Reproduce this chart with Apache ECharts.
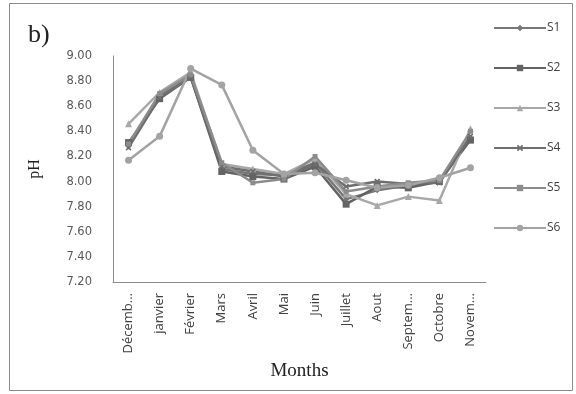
<!DOCTYPE html>
<html>
<head>
<meta charset="utf-8">
<script src="https://cdn.jsdelivr.net/npm/echarts@6/dist/echarts.min.js"></script>
<style>
  html, body { margin: 0; padding: 0; background: #fff; }
  #chart { width: 576px; height: 394px; }
</style>
</head>
<body>
<div id="chart"></div>
<script>
// Monthly pH at six sampling stations
const months = ['Décemb...', 'janvier', 'Février', 'Mars', 'Avril', 'Mai', 'Juin', 'Juillet', 'Aout', 'Septem...', 'Octobre', 'Novem...'];
const yTicks = ['7.20', '7.40', '7.60', '7.80', '8.00', '8.20', '8.40', '8.60', '8.80', '9.00'];

const S1 = [8.28, 8.68, 8.84, 8.10, 8.06, 8.05, 8.15, 7.86, 7.93, 7.97, 8.00, 8.35];
const S2 = [8.31, 8.66, 8.83, 8.08, 8.04, 8.02, 8.12, 7.82, 7.96, 7.95, 8.00, 8.33];
const S3 = [8.46, 8.71, 8.87, 8.14, 8.10, 8.06, 8.18, 7.90, 7.81, 7.88, 7.85, 8.42];
const S4 = [8.27, 8.67, 8.83, 8.12, 8.08, 8.04, 8.14, 7.96, 8.00, 7.98, 7.99, 8.36];
const S5 = [8.30, 8.70, 8.85, 8.15, 7.99, 8.02, 8.20, 7.92, 7.96, 7.99, 8.01, 8.40];
const S6 = [8.17, 8.36, 8.90, 8.77, 8.25, 8.06, 8.07, 8.01, 7.95, 7.97, 8.03, 8.11];

const seriesNames = ['S1', 'S2', 'S3', 'S4', 'S5', 'S6'];
const seriesData = [S1, S2, S3, S4, S5, S6];

const colors = ['#777777', '#636363', '#a8a8a8', '#6e6e6e', '#8c8c8c', '#a3a3a3'];
const crossPath = 'path://M2,0L5,3L8,0L10,2L7,5L10,8L8,10L5,7L2,10L0,8L3,5L0,2Z';
const symbols = ['diamond', 'rect', 'triangle', crossPath, 'rect', 'circle'];
const symbolSizes = [6, 7, 7, 6, 5, 7];

const chart = echarts.init(document.getElementById('chart'), null, { renderer: 'canvas' });

chart.setOption({
  animation: false,
  backgroundColor: '#ffffff',
  color: colors,
  grid: { left: 113, right: 90, top: 56, bottom: 112 },
  graphic: [
    {
      type: 'rect',
      shape: { x: 9.5, y: 3.5, width: 563, height: 387 },
      style: { fill: 'none', stroke: '#8a8a8a', lineWidth: 1 }
    },
    {
      type: 'text',
      left: 28, top: 22,
      style: { text: 'b)', font: '26px "Liberation Serif", serif', fill: '#222' }
    }
  ],
  legend: {
    orient: 'vertical',
    left: 488,
    top: 17,
    itemWidth: 52,
    itemHeight: 8,
    itemGap: 28,
    textStyle: { fontFamily: '"Open Sans", sans-serif', fontSize: 12, color: '#404040', padding: [0, 0, 0, -4] },
    data: seriesNames
  },
  xAxis: {
    type: 'category',
    data: months,
    name: 'Months',
    nameLocation: 'middle',
    nameGap: 80,
    nameTextStyle: { fontFamily: '"Liberation Serif", serif', fontSize: 19, color: '#222' },
    axisLine: { lineStyle: { color: '#8a8a8a', width: 1 } },
    axisTick: { show: false },
    axisLabel: {
      rotate: 90,
      margin: 11,
      fontFamily: '"Open Sans", sans-serif',
      fontSize: 13,
      color: '#404040'
    }
  },
  yAxis: {
    type: 'value',
    min: 7.2,
    max: 9.0,
    interval: 0.2,
    name: 'pH',
    nameLocation: 'middle',
    nameRotate: 90,
    nameGap: 70,
    nameTextStyle: { fontFamily: '"Liberation Serif", serif', fontSize: 16, color: '#222' },
    axisLine: { show: true, lineStyle: { color: '#8a8a8a', width: 1 } },
    axisTick: { show: false },
    splitLine: { show: false },
    axisLabel: {
      margin: 21,
      fontFamily: '"DejaVu Sans", sans-serif',
      fontSize: 11.5,
      color: '#595959',
      formatter: function (v) {
        const s = v.toFixed(2);
        return yTicks.indexOf(s) >= 0 ? s : '';
      }
    }
  },
  series: seriesNames.map(function (name, i) {
    return {
      name: name,
      type: 'line',
      data: seriesData[i],
      symbol: symbols[i],
      symbolSize: symbolSizes[i],
      showAllSymbol: true,
      lineStyle: { width: 2.5, color: colors[i] },
      itemStyle: { color: colors[i] }
    };
  })
});
</script>
</body>
</html>
